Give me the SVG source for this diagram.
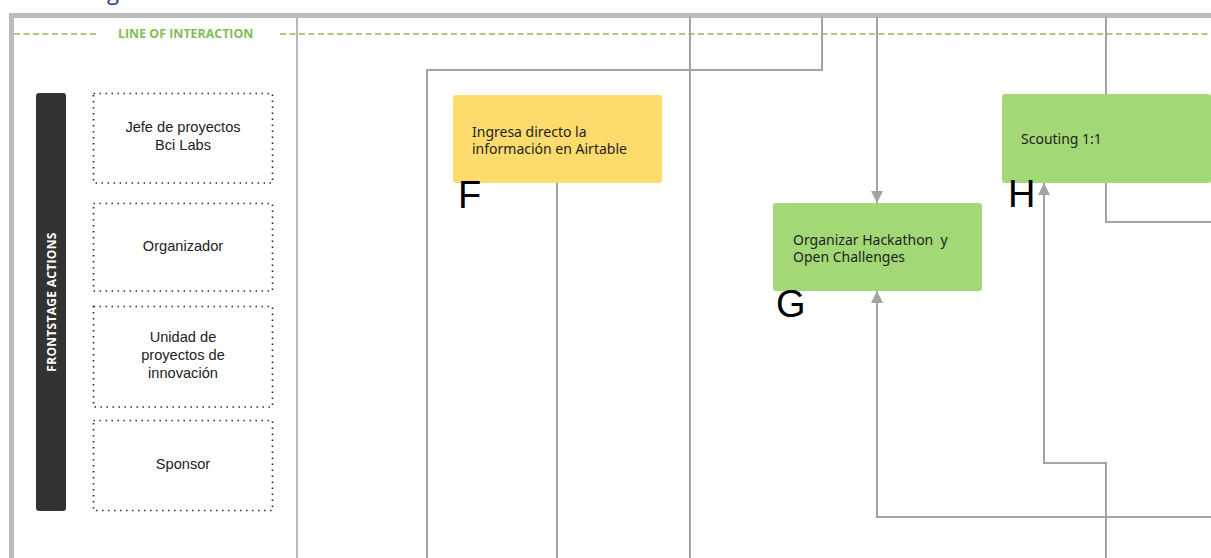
<svg xmlns="http://www.w3.org/2000/svg" width="1211" height="558" viewBox="0 0 1211 558">
  <style>
    .frame { fill: #ffffff; stroke: #bcbcbc; stroke-width: 5; }
    .divider { stroke: #b8b8b8; stroke-width: 2; fill: none; }
    .loi { stroke: #8dbb5c; stroke-width: 1.6; stroke-dasharray: 6 3.5; fill: none; }
    .loi-label { font-family: "Open Sans", "Noto Sans", sans-serif; font-weight: bold; font-size: 12.4px; fill: #86bb55; }
    .lane-bar { fill: #333333; }
    .lane-label { font-family: "Open Sans", "Noto Sans", sans-serif; font-weight: bold; font-size: 12px; fill: #ffffff; letter-spacing: 0.3px; }
    .actor { fill: none; stroke: #222222; stroke-width: 1.6; stroke-dasharray: 1.4 4.6; }
    .actor-text { font-family: "Liberation Sans", Arial, sans-serif; font-size: 14.6px; fill: #222222; text-anchor: middle; }
    .yellow { fill: #fddb6d; }
    .green { fill: #a3d877; }
    .node-text { font-family: "Noto Sans", "Open Sans", sans-serif; font-size: 14px; fill: #1e1e1e; }
    .letter { font-family: "Liberation Sans", Arial, sans-serif; font-size: 38px; fill: #000000; }
    .conn { fill: none; stroke: #a3a3a3; stroke-width: 2; }
    .title { font-family: "Open Sans", "Noto Sans", sans-serif; font-size: 22px; fill: #1f3c88; }
  </style>
  <defs>
    <marker id="arrow" viewBox="0 0 10 10" refX="10" refY="5" markerWidth="6.5" markerHeight="6" orient="auto" markerUnits="strokeWidth">
      <path d="M0,0 L10,5 L0,10 z" fill="#a3a3a3"/>
    </marker>
  </defs>

  <rect width="1211" height="558" fill="#ffffff"/>

  <!-- heading above the board, cropped at the top edge -->
  <text class="title" x="107" y="0">g</text>

  <!-- board frame and lane divider -->
  <rect class="frame" x="11.5" y="15.5" width="1250" height="600"/>
  <line class="divider" x1="297" y1="18" x2="297" y2="558"/>

  <!-- line of interaction -->
  <g id="line-of-interaction">
    <line class="loi" x1="14" y1="34" x2="96" y2="34"/>
    <text class="loi-label" x="118" y="37.8">LINE OF INTERACTION</text>
    <line class="loi" x1="280" y1="34" x2="1211" y2="34"/>
  </g>

  <!-- lane header -->
  <g id="lane-frontstage">
    <rect class="lane-bar" x="36" y="93" width="30" height="418" rx="3"/>
    <text class="lane-label" transform="translate(55.8 302) rotate(-90)" text-anchor="middle">FRONTSTAGE ACTIONS</text>
  </g>

  <!-- actors -->
  <g id="actor-jefe">
    <rect class="actor" x="93.5" y="93.5" width="179" height="89.5"/>
    <text class="actor-text" x="183" y="132">Jefe de proyectos</text>
    <text class="actor-text" x="183" y="150">Bci Labs</text>
  </g>
  <g id="actor-organizador">
    <rect class="actor" x="93.5" y="203.5" width="179" height="87.5"/>
    <text class="actor-text" x="183" y="251">Organizador</text>
  </g>
  <g id="actor-unidad">
    <rect class="actor" x="93.5" y="306.5" width="179" height="100.5"/>
    <text class="actor-text" x="183" y="342">Unidad de</text>
    <text class="actor-text" x="183" y="360">proyectos de</text>
    <text class="actor-text" x="183" y="378">innovación</text>
  </g>
  <g id="actor-sponsor">
    <rect class="actor" x="93.5" y="420.5" width="179" height="90"/>
    <text class="actor-text" x="183" y="469">Sponsor</text>
  </g>

  <!-- connectors -->
  <g id="connectors">
    <polyline class="conn" points="427,558 427,70 822,70 822,17"/>
    <line class="conn" x1="690" y1="17" x2="690" y2="558"/>
    <line class="conn" x1="557" y1="183" x2="557" y2="558"/>
    <line class="conn" x1="877" y1="17" x2="877" y2="203" marker-end="url(#arrow)"/>
    <line class="conn" x1="1106" y1="17" x2="1106" y2="94"/>
    <polyline class="conn" points="1106,183 1106,222 1211,222"/>
    <polyline class="conn" points="1106,558 1106,463 1044,463 1044,183" marker-end="url(#arrow)"/>
    <polyline class="conn" points="1211,517 877,517 877,291" marker-end="url(#arrow)"/>
  </g>

  <!-- steps -->
  <g id="node-f">
    <rect class="yellow" x="453" y="95" width="209" height="88" rx="3"/>
    <text class="node-text" x="472" y="137">Ingresa directo la</text>
    <text class="node-text" x="472" y="154">información en Airtable</text>
    <text class="letter" x="458" y="208">F</text>
  </g>
  <g id="node-g">
    <rect class="green" x="773" y="203" width="209" height="88" rx="3"/>
    <text class="node-text" x="793" y="245" xml:space="preserve">Organizar Hackathon  y</text>
    <text class="node-text" x="793" y="262">Open Challenges</text>
    <text class="letter" x="776" y="317">G</text>
  </g>
  <g id="node-h">
    <rect class="green" x="1002" y="94" width="209" height="89" rx="3"/>
    <text class="node-text" x="1021" y="144">Scouting 1:1</text>
    <text class="letter" x="1008" y="207">H</text>
  </g>
</svg>
